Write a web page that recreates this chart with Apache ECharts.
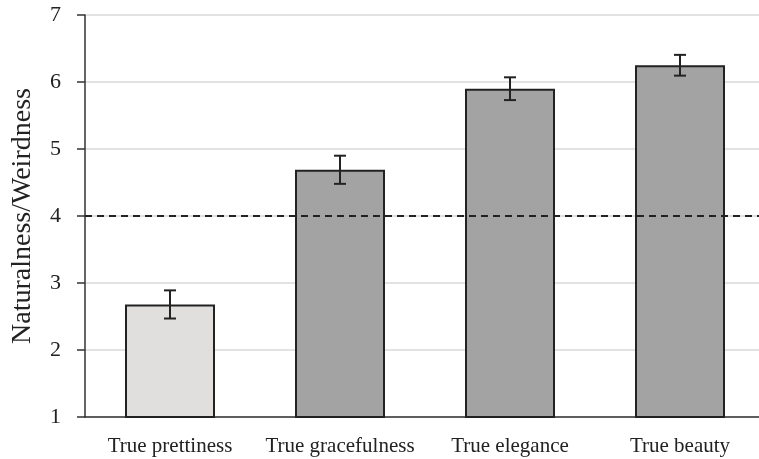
<!DOCTYPE html>
<html><head><meta charset="utf-8">
<script src="https://cdn.jsdelivr.net/npm/echarts@6/dist/echarts.min.js"></script>
<style>html,body{margin:0;padding:0;background:#fff;overflow:hidden}#c{width:766px;height:459px}</style>
</head><body><div id="c"></div>
<script>
var categories = ["True prettiness", "True gracefulness", "True elegance", "True beauty"];
var means = [2.68, 4.69, 5.9, 6.25];
var errors = [0.21, 0.21, 0.17, 0.155];
var barColors = ["#e0dfde", "#a2a3a2", "#a2a3a2", "#a2a3a2"];
var yTicks = [1, 2, 3, 4, 5, 6, 7];
var refValue = 4;

var font = "'Liberation Serif', 'DejaVu Serif', serif";
var chart = echarts.init(document.getElementById('c'), null, {renderer: 'canvas'});
chart.setOption({
  animation: false,
  grid: {left: 85, right: 1, top: 15, bottom: 42},
  xAxis: {
    type: 'category', data: categories,
    axisLine: {lineStyle: {color: '#333', width: 1.5}},
    axisTick: {show: false},
    axisLabel: {color: '#222', fontFamily: font, fontSize: 21, margin: 19, interval: 0}
  },
  yAxis: {
    type: 'value', min: yTicks[0], max: yTicks[yTicks.length - 1], interval: 1,
    name: 'Naturalness/Weirdness', nameLocation: 'middle', nameGap: 48,
    nameTextStyle: {color: '#222', fontFamily: font, fontSize: 28},
    axisLine: {show: true, lineStyle: {color: '#333', width: 1.5}},
    axisTick: {show: true, length: 8, lineStyle: {color: '#333', width: 1.5}},
    axisLabel: {color: '#222', fontFamily: font, fontSize: 22, margin: 24},
    splitLine: {lineStyle: {color: '#d9d9d9', width: 1.5}}
  },
  series: [{
    type: 'bar', barWidth: 90,
    data: means.map(function (v, i) {
      return {value: v, itemStyle: {color: barColors[i], borderColor: '#222', borderWidth: 2}};
    }),
    markLine: {
      silent: true, symbol: ['none', 'none'], label: {show: false},
      lineStyle: {color: '#222', type: [7, 5], width: 2},
      data: [{yAxis: refValue}]
    },
    z: 2
  }, {
    type: 'custom',
    data: means.map(function (v, i) { return [i, v - errors[i], v + errors[i]]; }),
    renderItem: function (params, api) {
      var lo = api.coord([api.value(0), api.value(1)]);
      var hi = api.coord([api.value(0), api.value(2)]);
      var w = 6;
      var st = {stroke: '#222', lineWidth: 2};
      return {type: 'group', children: [
        {type: 'line', shape: {x1: hi[0], y1: hi[1], x2: lo[0], y2: lo[1]}, style: st},
        {type: 'line', shape: {x1: hi[0] - w, y1: hi[1], x2: hi[0] + w, y2: hi[1]}, style: st},
        {type: 'line', shape: {x1: lo[0] - w, y1: lo[1], x2: lo[0] + w, y2: lo[1]}, style: st}
      ]};
    },
    z: 5
  }]
});
</script></body></html>
